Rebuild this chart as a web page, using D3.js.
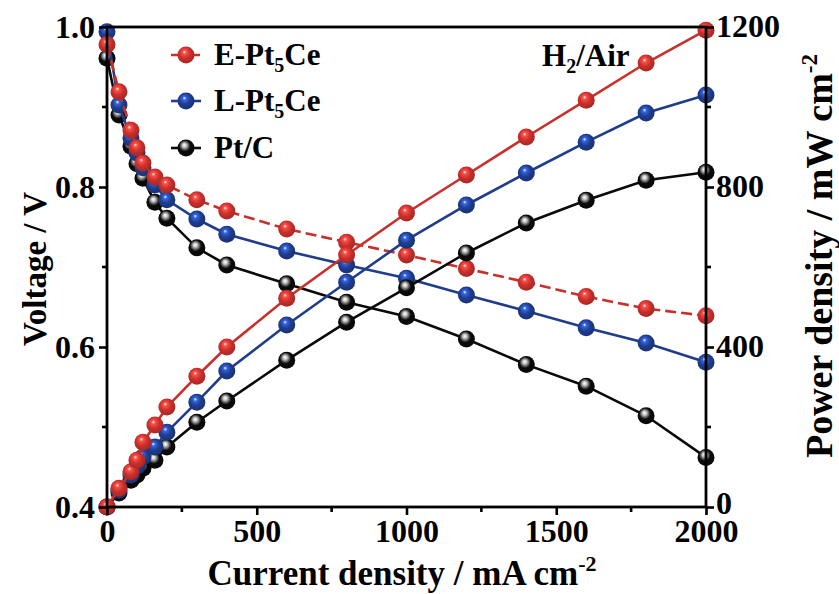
<!DOCTYPE html>
<html>
<head>
<meta charset="utf-8">
<script src="https://cdn.jsdelivr.net/npm/d3@7"></script>
<style>
  html, body { margin: 0; padding: 0; background: #fff; }
  svg { display: block; }
  text { font-family: "Liberation Serif", "Times New Roman", serif; font-weight: bold; fill: #000; }
</style>
</head>
<body>
<svg id="chart" width="839" height="594"></svg>
<script>
// Current density (mA cm^-2) shared by all polarisation / power curves
const current = [0, 40, 80, 100, 120, 160, 200, 300, 400, 600, 800, 1000, 1200, 1400, 1600, 1800, 2000];

// Cell voltage (V)
const voltageE = [0.978, 0.919, 0.871, 0.849, 0.830, 0.8125, 0.8025, 0.784, 0.770, 0.7475, 0.731, 0.715, 0.698, 0.681, 0.663, 0.648, 0.639];
const voltageL = [0.994, 0.9025, 0.861, 0.8425, 0.824, 0.8025, 0.784, 0.760, 0.741, 0.720, 0.7025, 0.686, 0.665, 0.645, 0.624, 0.605, 0.581];
const voltagePt = [0.961, 0.890, 0.851, 0.829, 0.811, 0.781, 0.761, 0.724, 0.7025, 0.679, 0.656, 0.638, 0.610, 0.578, 0.551, 0.514, 0.462];

// Power density (mW cm^-2)
const powerE = [0, 47, 88, 117, 162, 205, 250, 327, 400, 522, 630, 735, 830, 925, 1017, 1110, 1192];
const powerL = [0, 42, 80, 102, 125, 150, 187, 262, 340, 455, 562, 667, 755, 835, 912, 985, 1030];
const powerPt = [0, 35, 67, 80, 97, 117, 150, 212, 265, 367, 462, 548, 635, 710, 767, 817, 837];

const seriesNames = ["E-Pt5Ce", "L-Pt5Ce", "Pt/C"];
const seriesColors = ["#c9302c", "#1f3d8c", "#0a0a0a"];

// Axis ticks
const xTicks = [0, 500, 1000, 1500, 2000];
const xMinor = [250, 750, 1250, 1750];
const vTicks = [0.4, 0.6, 0.8, 1.0];
const vMinor = [0.5, 0.7, 0.9];
const pTicks = [0, 400, 800, 1200];
const pMinor = [200, 600, 1000];

const svg = d3.select("#chart");
const L = 107, R = 706, T = 27, B = 507;

const x = d3.scaleLinear().domain([0, 2000]).range([L, R]);
const yV = d3.scaleLinear().domain([0.4, 1.0]).range([B, T]);
const yP = d3.scaleLinear().domain([0, 1200]).range([B, T]);

// Sphere-like marker shading
const defs = svg.append("defs");
seriesColors.forEach((c, i) => {
  const base = d3.color(c);
  const g = defs.append("radialGradient").attr("id", "ball" + i)
    .attr("cx", "45%").attr("cy", "42%").attr("r", "60%")
    .attr("fx", "40%").attr("fy", "32%");
  g.append("stop").attr("offset", "0%").attr("stop-color", "#ffffff");
  g.append("stop").attr("offset", "18%").attr("stop-color", i === 2 ? "#d0d0d0" : base.brighter(1.4).formatHex());
  g.append("stop").attr("offset", "55%").attr("stop-color", c);
  g.append("stop").attr("offset", "100%").attr("stop-color", base.darker(0.6).formatHex());
});

const voltages = [voltageE, voltageL, voltagePt];
const powers = [powerE, powerL, powerPt];
const R_MARK = 8.5;

const plot = svg.append("g");

function drawSeries(values, yScale, i, dashed) {
  const pts = current.map((c, k) => [c, values[k]]);
  const line = d3.line().x(d => x(d[0])).y(d => yScale(d[1]));
  plot.append("path").datum(pts)
    .attr("d", line)
    .attr("fill", "none")
    .attr("stroke", seriesColors[i])
    .attr("stroke-width", 2.6)
    .attr("stroke-dasharray", dashed ? "11,5" : null);
  plot.append("g").selectAll("circle").data(pts).join("circle")
    .attr("cx", d => x(d[0]))
    .attr("cy", d => yScale(d[1]))
    .attr("r", R_MARK)
    .attr("fill", `url(#ball${i})`);
}

[2, 1, 0].forEach(i => drawSeries(voltages[i], yV, i, i === 0));
[2, 1, 0].forEach(i => drawSeries(powers[i], yP, i, false));

// Axes
const axisG = svg.append("g");
const fontSize = 32;

const xAxis = d3.axisBottom(x).tickValues(xTicks).tickSize(8).tickFormat(d3.format("d"));
const gx = axisG.append("g").attr("transform", `translate(0,${B})`).call(xAxis);
gx.append("g").selectAll("line").data(xMinor).join("line")
  .attr("x1", d => x(d)).attr("x2", d => x(d)).attr("y1", 0).attr("y2", 5);

const vAxis = d3.axisLeft(yV).tickValues(vTicks).tickSize(8).tickFormat(d3.format(".1f"));
const gv = axisG.append("g").attr("transform", `translate(${L},0)`).call(vAxis);
gv.append("g").selectAll("line").data(vMinor).join("line")
  .attr("y1", d => yV(d)).attr("y2", d => yV(d)).attr("x1", 0).attr("x2", -5);

const pAxis = d3.axisRight(yP).tickValues(pTicks).tickSize(8).tickFormat(d3.format("d"));
const gp = axisG.append("g").attr("transform", `translate(${R},0)`).call(pAxis);
gp.append("g").selectAll("line").data(pMinor).join("line")
  .attr("y1", d => yP(d)).attr("y2", d => yP(d)).attr("x1", 0).attr("x2", 5);

axisG.selectAll(".domain").remove();
axisG.selectAll("line").attr("stroke", "#000").attr("stroke-width", 2.6);
axisG.selectAll("text")
  .style("font-family", '"Liberation Serif", "Times New Roman", serif')
  .style("font-weight", "bold")
  .style("font-size", fontSize + "px")
  .attr("fill", "#000");
gx.selectAll(".tick text").attr("dy", "0.7em").attr("y", 13);
gv.selectAll(".tick text").attr("x", -12);
gp.selectAll(".tick text").attr("x", 10).attr("dy", "0.3em");
// lift the lowest right-hand label a touch so it clears the "2000" below it
gp.selectAll(".tick text").filter(d => d === 0).attr("dy", "0.2em");

// Frame
svg.append("rect").attr("x", L).attr("y", T).attr("width", R - L).attr("height", B - T)
  .attr("fill", "none").attr("stroke", "#000").attr("stroke-width", 2.8);

// Axis titles
const xt = svg.append("text").attr("x", 402).attr("y", 585)
  .attr("text-anchor", "middle").style("font-size", "35px");
xt.append("tspan").text("Current density / mA cm");
xt.append("tspan").attr("dy", -14).style("font-size", "22px").text("-2");

svg.append("text")
  .attr("transform", `translate(46,269) rotate(-90)`)
  .attr("text-anchor", "middle").style("font-size", "33px")
  .text("Voltage / V");

const pt = svg.append("text")
  .attr("transform", `translate(832,256) rotate(-90)`)
  .attr("text-anchor", "middle").style("font-size", "38px");
pt.append("tspan").text("Power density / mW cm");
pt.append("tspan").attr("dy", -15).style("font-size", "23px").text("-2");

// Legend
const legend = svg.append("g");
const legY = [55, 101, 148];
seriesNames.forEach((name, i) => {
  const g = legend.append("g").attr("transform", `translate(0,${legY[i]})`);
  g.append("line").attr("x1", 171).attr("x2", 201).attr("y1", 0).attr("y2", 0)
    .attr("stroke", seriesColors[i]).attr("stroke-width", 2.6)
    .attr("stroke-dasharray", i === 0 ? "7,4" : null);
  g.append("circle").attr("cx", 186).attr("cy", 0).attr("r", R_MARK)
    .attr("fill", `url(#ball${i})`);
  const t = g.append("text").attr("x", 214).attr("y", 10).style("font-size", "31px");
  if (name.includes("5")) {
    const [a, b] = name.split("5");
    t.append("tspan").text(a);
    t.append("tspan").attr("dy", 7).style("font-size", "20px").text("5");
    t.append("tspan").attr("dy", -7).text(b);
  } else {
    t.text(name);
  }
});

// Gas feed annotation
const h = svg.append("text").attr("x", 542).attr("y", 66).style("font-size", "31px");
h.append("tspan").text("H");
h.append("tspan").attr("dy", 7).style("font-size", "20px").text("2");
h.append("tspan").attr("dy", -7).text("/Air");
</script>
</body>
</html>
